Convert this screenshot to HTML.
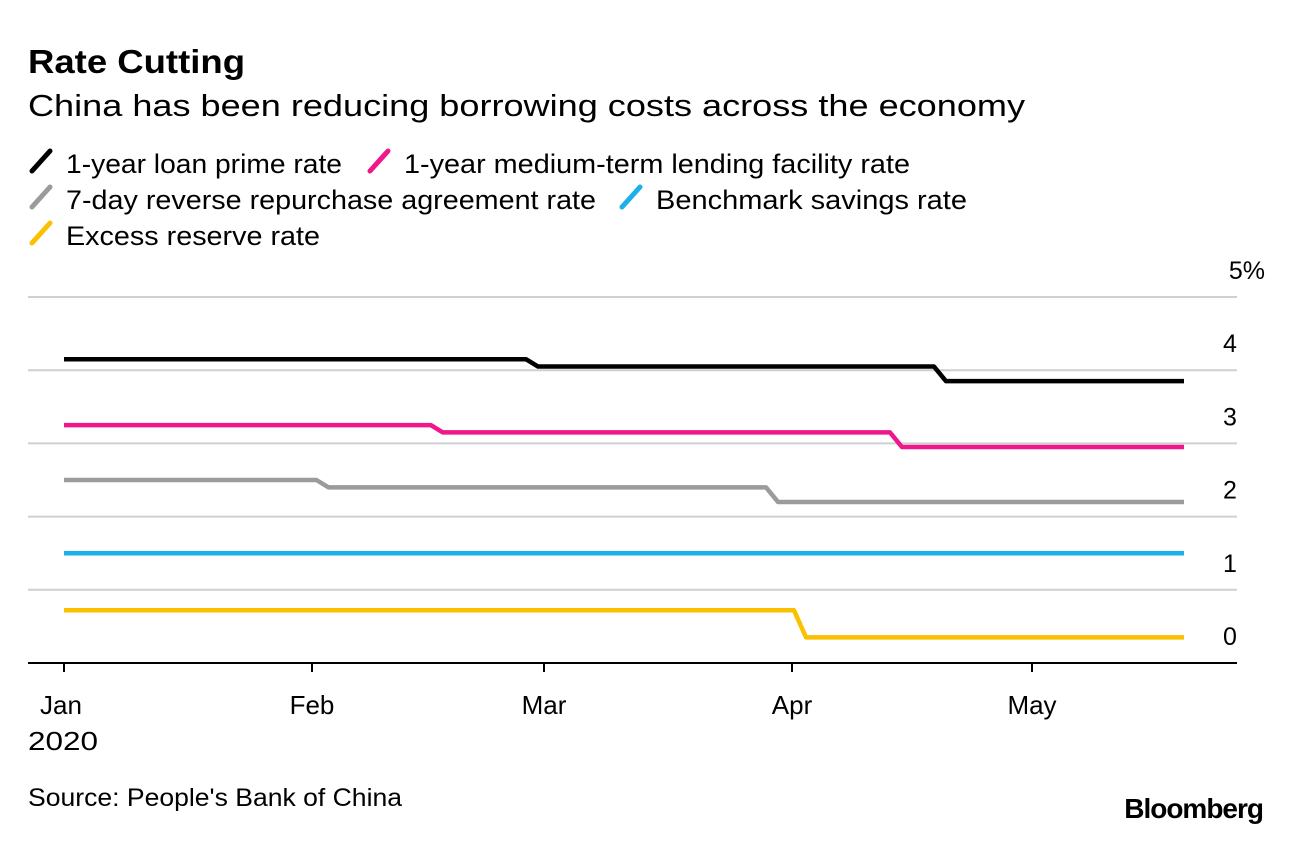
<!DOCTYPE html>
<html><head><meta charset="utf-8"><style>
body{margin:0;background:#fff;}
svg text{font-family:"Liberation Sans",Arial,sans-serif;}
</style></head><body>
<svg width="1292" height="836" viewBox="0 0 1292 836">
<text x="28" y="73" font-size="33" font-weight="bold" fill="#000" textLength="217" lengthAdjust="spacingAndGlyphs">Rate Cutting</text>
<text x="28" y="116" font-size="31" fill="#000" textLength="997" lengthAdjust="spacingAndGlyphs">China has been reducing borrowing costs across the economy</text>
<g id="legend"></g>
<g id="grid"></g>
<g id="yticks"></g>
<g id="xaxis"></g>
<g id="series"></g>
<text x="28" y="806" font-size="25" fill="#000" textLength="374" lengthAdjust="spacingAndGlyphs">Source: People's Bank of China</text>
<text x="1263" y="818" font-size="28" font-weight="bold" text-anchor="end" fill="#000" letter-spacing="-1">Bloomberg</text>
</svg>
<script>
const yTicks=[0,1,2,3,4,5];
const yTickLabels=["0","1","2","3","4","5%"];
const monthDays=[0,31,60,91,121];
const monthLabels=["Jan","Feb","Mar","Apr","May"];
const seriesNames=["1-year loan prime rate","1-year medium-term lending facility rate","7-day reverse repurchase agreement rate","Benchmark savings rate","Excess reserve rate"];
const seriesColors=["#000000","#f0168c","#9b9b9b","#1bb0ea","#fbc000"];
const lprDays=[0,58.5,109.5,140]; const lprVals=[4.15,4.05,3.85];
const mlfDays=[0,46.6,104,140]; const mlfVals=[3.25,3.15,2.95];
const repoDays=[0,32.3,88.5,140]; const repoVals=[2.50,2.40,2.20];
const savDays=[0,140]; const savVals=[1.50];
const errDays=[0,92,140]; const errVals=[0.72,0.35];
const allDays=[lprDays,mlfDays,repoDays,savDays,errDays];
const allVals=[lprVals,mlfVals,repoVals,savVals,errVals];

const NS="http://www.w3.org/2000/svg";
const x=d=>64+d*8.0;
const y=v=>663-v*73.2;
function mk(tag,attrs,parent){const e=document.createElementNS(NS,tag);for(const k in attrs)e.setAttribute(k,attrs[k]);parent.appendChild(e);return e;}

const grid=document.getElementById('grid');
const yt=document.getElementById('yticks');
yTicks.forEach((v,i)=>{
  if(v>0){const l=mk('line',{x1:28,x2:1237,y1:y(v),y2:y(v),stroke:'#d0d0d0','stroke-width':2},grid);
  
  }
  const t=mk('text',{x:v===5?1265:1230,y:y(v)-18,'font-size':25,'text-anchor':v===5?'end':'middle'},yt);
  t.textContent=yTickLabels[i];
  
  
});
const xa=document.getElementById('xaxis');
const ax=mk('line',{x1:28,x2:1237,y1:663,y2:663,stroke:'#000','stroke-width':2},xa);


monthDays.forEach((d,i)=>{
  const tk=mk('line',{x1:x(d),x2:x(d),y1:663,y2:672,stroke:'#000','stroke-width':2},xa);
  
  
  const t=mk('text',{x:i===0?40:x(d),y:714,'font-size':26,'text-anchor':i===0?'start':'middle'},xa);
  t.textContent=monthLabels[i];
  
  
});
const yr=mk('text',{x:28,y:750,'font-size':26,textLength:70,lengthAdjust:'spacingAndGlyphs'},xa);
yr.textContent="2020";



const sg=document.getElementById('series');
allDays.forEach((days,i)=>{
  const vals=allVals[i];
  const pts=[[x(days[0]),y(vals[0])]];
  for(let k=1;k<days.length-1;k++){
    pts.push([x(days[k]-0.75),y(vals[k-1])]);
    pts.push([x(days[k]+0.75),y(vals[k])]);
  }
  pts.push([x(days[days.length-1]),y(vals[vals.length-1])]);
  const p=mk('polyline',{points:pts.map(q=>q.join(',')).join(' '),fill:'none',stroke:seriesColors[i],'stroke-width':4.5,'stroke-linejoin':'round'},sg);
  
  
});

const lg=document.getElementById('legend');
const legPos=[[30,173],[368,173],[30,209],[620,209],[30,245]];
const legLen=[276,506,530,311,254];
seriesNames.forEach((n,i)=>{
  const [lx,ly]=legPos[i];
  const g=mk('g',{},lg);
  
  
  mk('line',{x1:lx+2,y1:ly-2,x2:lx+20,y2:ly-22,stroke:seriesColors[i],'stroke-width':5,'stroke-linecap':'round'},g);
  const t=mk('text',{x:lx+36,y:ly,'font-size':27,textLength:legLen[i],lengthAdjust:'spacingAndGlyphs'},g);
  t.textContent=n;
});
</script>
</body></html>
